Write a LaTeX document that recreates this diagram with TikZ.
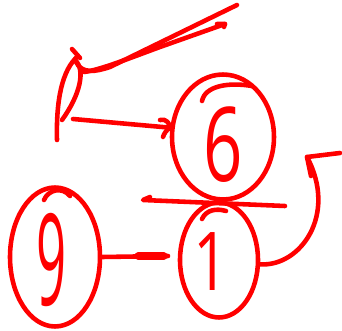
\documentclass[tikz,border=0pt]{standalone}
\usepackage{graphicx}
\usepackage{fontspec}
\newfontfamily\handfont{Open Sans}
\usetikzlibrary{shapes.geometric}
\begin{document}
\begin{tikzpicture}[x=0.02cm, y=-0.02cm,
    pen/.style={red, line width=2.6pt, line cap=round, line join=round},
    ring/.style={pen, draw, ellipse, inner sep=0pt},
    digit/.style={red, inner sep=0pt, font=\handfont}]
  \useasboundingbox (0,0) rectangle (342,331);
  % the three circled keys
  \node[ring, minimum width=2.04cm, minimum height=2.5cm] (six) at (223,137) {};
  \node[ring, minimum width=1.56cm, minimum height=2.3cm] (one) at (219,260) {};
  \node[ring, minimum width=1.8cm, minimum height=2.78cm] (nine) at (55,257) {};
  \node[digit] (sixlbl) at (223,145) {\scalebox{0.7}[1.05]{\handfont\fontsize{56}{56}\selectfont 6}};
  \node[digit] (onelbl) at (211,262) {\scalebox{0.8}[1.05]{\handfont\fontsize{44}{44}\selectfont 1}};
  \node[digit] (ninelbl) at (52,260) {\scalebox{0.6}[1.45]{\handfont\fontsize{50}{50}\selectfont 9}};
  % retraced strokes on the rings
  \draw[pen] (202,101) .. controls (205,86) and (228,82) .. (252,86);
  \draw[pen] (202,219) .. controls (206,210) and (216,208) .. (226,211);
  \draw[pen] (44,200) .. controls (48,190) and (62,186) .. (70,196);
  % pointer
  \draw[pen] (57,140) .. controls (56,100) and (62,70) .. (78,56);
  \draw[pen] (62,120) .. controls (80,95) and (86,70) .. (75,60);
  \draw[pen] (72,49) -- (80,58);
  \draw[pen] (76,62) .. controls (82,74) and (95,72) .. (110,67) -- (237,5);
  \draw[pen] (84,72) .. controls (100,70) and (130,58) .. (160,47) -- (225,24);
  \draw[pen] (217,24) -- (225,24) -- (224,27);
  % connectors
  \coordinate (ptr) at (73,119);
  \draw[pen] (ptr) -- (six.170);
  \draw[pen] (160,120) .. controls (166,118) and (170,124) .. (six.170) .. controls (166,130) and (164,134) .. (163,137);
  \coordinate (barR) at (285,206);
  \coordinate (barL) at (143,200);
  \draw[pen] (barR) -- (barL) -- (150,197);
  \coordinate (gap) at (168,256);
  \draw[pen] (nine.east) -- (gap);
  \draw[pen, line width=4pt] (138,256) -- (164,256);
  \coordinate (tipA) at (307,157);
  \draw[pen] (one.-6) .. controls (300,267) and (338,215) .. (tipA);
  \draw[pen] (340,153) -- (tipA) -- (311,176);
\end{tikzpicture}
\end{document}
